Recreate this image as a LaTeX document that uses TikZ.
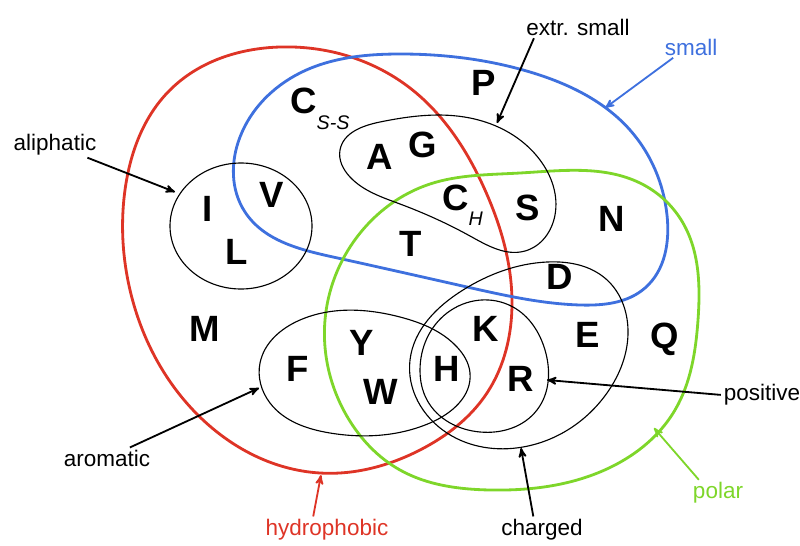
\documentclass[tikz,border=0pt]{standalone}
\usepackage{fontspec}
\setmainfont{Liberation Sans}
\usepackage{tikz}
\usetikzlibrary{arrows,positioning,hobby}
\definecolor{hydrored}{RGB}{222,52,38}
\definecolor{smallblue}{RGB}{62,112,222}
\definecolor{polargreen}{RGB}{126,214,42}
\tikzset{acid/.style={font=\fontsize{26}{26}\selectfont\bfseries,inner sep=0pt},
		setlabel/.style={font=\fontsize{16}{16}\selectfont,inner sep=1pt},
		setline/.style={line width=2pt,use Hobby shortcut,closed=true},
		group/.style={line width=0.8pt,use Hobby shortcut,closed=true},
		pointer/.style={->,>=stealth',shorten <=1pt,line width=1.3pt}}

\begin{document}
\begin{tikzpicture}[x=0.025cm,y=-0.025cm]
		\useasboundingbox (0,0) rectangle (800,545);
		% big sets
		\draw[setline,hydrored] (280,47) .. (410,88) .. (485,190) .. (512,303) .. (487,393) .. (420,450) .. (320,473) .. (193,410) .. (130,290) .. (125,190) .. (170,90);
		\draw[setline,smallblue] (400,54) .. (530,72) .. (630,130) .. (667,215) .. (645,288) .. (580,305) .. (467,287) .. (333,257) .. (245,212) .. (240,137) .. (300,73);
		\draw[setline,polargreen] (520,173) .. (640,183) .. (683,223) .. (698,320) .. (675,410) .. (600,472) .. (490,490) .. (400,470) .. (348,418) .. (325,320) .. (357,237) .. (430,184);
		% small groups
		\draw[line width=0.8pt] (241,226) ellipse (71 and 63);
		\draw[group] (340,150) .. (380,122) .. (470,118) .. (540,160) .. (555,215) .. (525,251) .. (470,236) .. (400,204) .. (350,177);
		\draw[group] (260,363) .. (300,320) .. (400,317) .. (457,347) .. (470,373) .. (430,423) .. (330,433) .. (270,403);
		\draw[group] (547,262) .. (606,279) .. (628,330) .. (607,393) .. (523,447) .. (447,433) .. (410,360) .. (463,290);
		\draw[group] (420,370) .. (447,313) .. (513,307) .. (545,350) .. (537,410) .. (480,432) .. (427,400);

		% amino acids
		\node[acid] (P) at (484,83) {P};
		\node[acid,anchor=west] (Css) at (290,109) {C\raisebox{-0.42em}{\fontsize{14}{14}\selectfont\mdseries\itshape S-S}};
		\node[acid] (A) at (380,157) {A};
		\node[acid] (G) at (423,145) {G};
		\node[acid] (I) at (208,209) {I};
		\node[acid] (V) at (272,195) {V};
		\node[acid] (L) at (237,252) {L};
		\node[acid,anchor=west] (Ch) at (442,205) {C\raisebox{-0.42em}{\fontsize{14}{14}\selectfont\mdseries\itshape H}};
		\node[acid] (S) at (528,208) {S};
		\node[acid] (N) at (612,219) {N};
		\node[acid] (T) at (411,244) {T};
		\node[acid] (D) at (560,277) {D};
		\node[acid] (M) at (205,329) {M};
		\node[acid] (K) at (486,329) {K};
		\node[acid] (E) at (588,335) {E};
		\node[acid] (Q) at (665,339) {Q};
		\node[acid] (Y) at (362,343) {Y};
		\node[acid] (F) at (298,369) {F};
		\node[acid] (H) at (447,369) {H};
		\node[acid] (R) at (521,379) {R};
		\node[acid] (W) at (381,392) {W};

		% labels
		\node[setlabel] (aliphatic) at (55,145) {aliphatic};
		\node[setlabel] (extrsmall) at (578,27) {extr. small};
		\node[setlabel,text=smallblue] (smalltxt) at (691,47) {small};
		\node[setlabel] (aromatic) at (107,458) {aromatic};
		\node[setlabel,text=hydrored] (hydrophobic) at (327,530) {hydrophobic};
		\node[setlabel] (charged) at (542,530) {charged};
		\node[setlabel] (positive) at (762,395) {positive};
		\node[setlabel,text=polargreen] (polar) at (718,493) {polar};

		\coordinate (ali-tip) at (175,192);
		\coordinate (ext-tip) at (497,123);
		\coordinate (sml-tip) at (605,108);
		\coordinate (aro-tip) at (259,388);
		\coordinate (hyd-tip) at (321,475);
		\coordinate (chg-tip) at (521,448);
		\coordinate (pos-tip) at (547,380);
		\coordinate (pol-tip) at (654,428);

		\draw[pointer] (aliphatic) -- (ali-tip);
		\draw[pointer] ([xshift=7pt]extrsmall.south west) -- (ext-tip);
		\draw[pointer,smallblue] ([xshift=8pt]smalltxt.south west) -- (sml-tip);
		\draw[pointer] (aromatic) -- (aro-tip);
		\draw[pointer,hydrored] ([xshift=-10pt]hydrophobic.north) -- (hyd-tip);
		\draw[pointer] ([xshift=-6pt]charged.north) -- (chg-tip);
		\draw[pointer] (positive.west) -- (pos-tip);
		\draw[pointer,polargreen] ([xshift=6pt]polar.north west) -- (pol-tip);
	\end{tikzpicture}
\end{document}
